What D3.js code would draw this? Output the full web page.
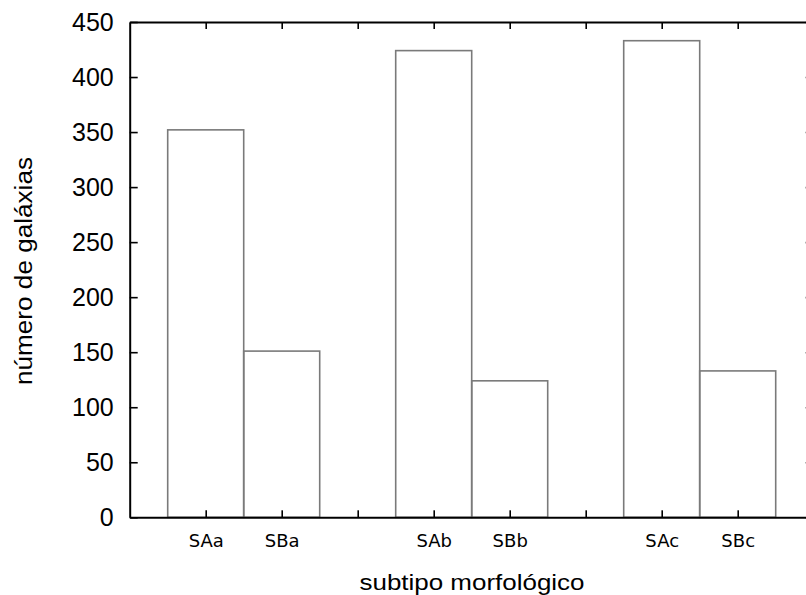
<!DOCTYPE html>
<html><head><meta charset="utf-8">
<script src="https://cdn.jsdelivr.net/npm/d3@7"></script>
<style>body{margin:0;background:#fff}svg{display:block}</style>
</head><body>
<svg id="c" width="806" height="595"></svg>
<script>
const categories = ["SAa","SBa","SAb","SBb","SAc","SBc"];
const positions = [1,2,4,5,7,8];
const counts = [352,151,424,124,433,133];
const yTicks = [0,50,100,150,200,250,300,350,400,450];
const xTicks = [1,2,3,4,5,6,7,8,9];
const xTitle = "subtipo morfológico";
const yTitle = "número de galáxias";

const svg = d3.select("#c");
const L = 129.7, R = 813.7, T = 22, B = 517.3;
const x = d3.scaleLinear().domain([0,9]).range([L,R]);
const y = d3.scaleLinear().domain([0,450]).range([B,T]);

// bars
svg.append("g").selectAll("rect").data(counts).join("rect")
  .attr("x",(d,i)=>x(positions[i]-0.5))
  .attr("width",(d,i)=>x(positions[i]+0.5)-x(positions[i]-0.5))
  .attr("y",d=>y(d))
  .attr("height",d=>y(0)-y(d))
  .attr("fill","none").attr("stroke","#7a7a7a").attr("stroke-width",1.6);

const labelOf = v => { const i = positions.indexOf(v); return i>=0 ? categories[i] : ""; };

const gB = svg.append("g").attr("transform",`translate(0,${B})`)
  .call(d3.axisBottom(x).tickValues(xTicks).tickSizeInner(-7).tickSizeOuter(0).tickPadding(17.2).tickFormat(labelOf));
const gT = svg.append("g").attr("transform",`translate(0,${T})`)
  .call(d3.axisTop(x).tickValues(xTicks).tickSizeInner(-7).tickSizeOuter(0).tickFormat(""));
const gL = svg.append("g").attr("transform",`translate(${L},0)`)
  .call(d3.axisLeft(y).tickValues(yTicks).tickSizeInner(-8).tickSizeOuter(0).tickPadding(16));
const gR = svg.append("g").attr("transform",`translate(${R},0)`)
  .call(d3.axisRight(y).tickValues(yTicks).tickSizeInner(-8).tickSizeOuter(0).tickFormat(""));

[gB,gT,gL,gR].forEach(g=>{
  g.select(".domain").attr("stroke","#000").attr("stroke-width",2);
  g.selectAll(".tick line").attr("stroke","#000").attr("stroke-width",1.6);
});
gB.selectAll(".tick text").attr("font-family","DejaVu Sans").attr("font-size",18).attr("fill","#000");
gL.selectAll(".tick text").attr("font-family","Liberation Sans").attr("font-size",25).attr("fill","#000");

svg.append("text").attr("x",472).attr("y",590).attr("text-anchor","middle")
  .attr("font-family","Liberation Sans").attr("font-size",22)
  .attr("textLength",225).attr("lengthAdjust","spacingAndGlyphs").text(xTitle);
svg.append("text").attr("transform","translate(32,271) rotate(-90)").attr("text-anchor","middle")
  .attr("font-family","Liberation Sans").attr("font-size",23)
  .attr("textLength",228).attr("lengthAdjust","spacingAndGlyphs").text(yTitle);
</script>
</body></html>
